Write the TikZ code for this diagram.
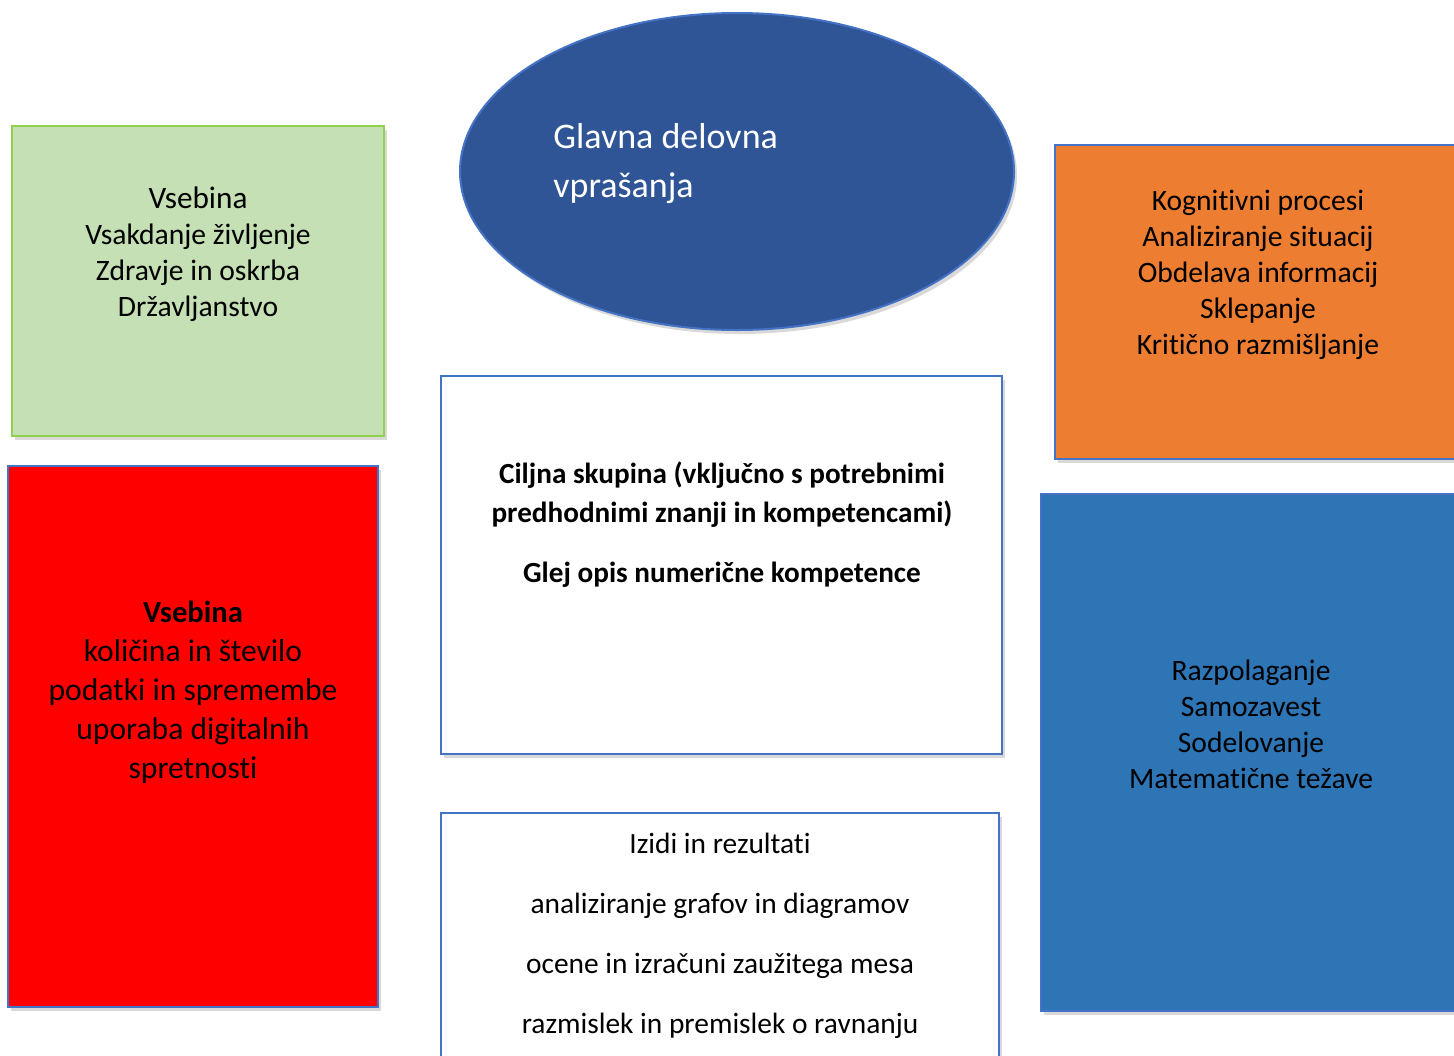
\documentclass[tikz,border=0pt]{standalone}
\usepackage{fontspec}
\setmainfont{Carlito}[Ligatures={NoCommon}]
\usetikzlibrary{shapes.geometric,shadows}
\definecolor{frame}{HTML}{4472C4}
\definecolor{leafgreen}{HTML}{C5E0B4}
\definecolor{leafframe}{HTML}{92D050}
\definecolor{navy}{HTML}{2F5597}
\definecolor{tangerine}{HTML}{ED7D31}
\definecolor{steel}{HTML}{2E75B6}

\begin{document}
\begin{tikzpicture}[x=0.5pt,y=-0.5pt,inner sep=0pt,
  box/.style={rectangle,draw=frame,line width=1pt,
    drop shadow={shadow xshift=1.5pt,shadow yshift=-2pt,opacity=0.3}},
  label text/.style={align=center,text=black}]

  \useasboundingbox (0,0) rectangle (1454,1055);

  \node[box,draw=leafframe,fill=leafgreen,minimum width=186pt,minimum height=155pt] (content1) at (198,281) {};
  \node[box,fill=red,minimum width=185pt,minimum height=270.5pt] (content2) at (193,736.5) {};
  \node[box,ellipse,fill=navy,minimum width=277pt,minimum height=158.5pt] (questions) at (737,171.5) {};
  \node[box,fill=white,minimum width=280.5pt,minimum height=189pt] (target) at (721.5,565) {};
  \node[box,fill=white,minimum width=279pt,minimum height=131pt] (outcomes) at (720,944) {};
  \node[box,fill=tangerine,minimum width=212.5pt,minimum height=157pt] (cognitive) at (1267.5,302) {};
  \node[box,fill=steel,minimum width=219.5pt,minimum height=258.5pt] (attitude) at (1260.5,752.5) {};

  \node[label text,font=\fontsize{14.8}{18}\selectfont] (content1 text) at (198,254)
    {{\fontsize{15.6}{19}\selectfont Vsebina}\\Vsakdanje življenje\\Zdravje in oskrba\\Državljanstvo};
  \node[label text,font=\fontsize{15.8}{19.5}\selectfont] (content2 text) at (193,692)
    {{\fontsize{15.3}{19.5}\selectfont\bfseries Vsebina}\\količina in število\\podatki in spremembe\\uporaba digitalnih\\spretnosti};
  \node[align=left,anchor=west,text=white,font=\fontsize{18}{24.5}\selectfont] (questions text) at (553,164)
    {Glavna delovna\\vprašanja};
  \node[label text,font=\bfseries\fontsize{14.6}{19.5}\selectfont] (target text) at (722,524.5)
    {Ciljna skupina (vključno s potrebnimi\\predhodnimi znanji in kompetencami)\\[10.5pt]Glej opis numerične kompetence};
  \node[label text,font=\fontsize{14.7}{30}\selectfont] (outcomes text) at (720,936)
    {Izidi in rezultati\\analiziranje grafov in diagramov\\ocene in izračuni zaužitega mesa\\razmislek in premislek o ravnanju};
  \node[label text,font=\fontsize{14.8}{18}\selectfont] (cognitive text) at (1258,275)
    {Kognitivni procesi\\Analiziranje situacij\\Obdelava informacij\\Sklepanje\\Kritično razmišljanje};
  \node[label text,font=\fontsize{14.8}{18}\selectfont] (attitude text) at (1251,724)
    {Razpolaganje\\Samozavest\\Sodelovanje\\Matematične težave};

\end{tikzpicture}
\end{document}
